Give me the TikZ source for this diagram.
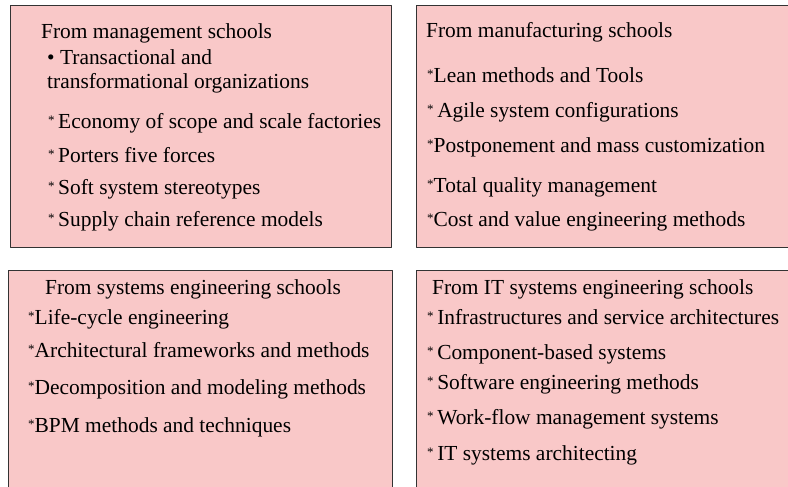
\documentclass[tikz,border=0pt]{standalone}
\usepackage{fontspec}
\setmainfont{Liberation Serif}
\definecolor{schoolpink}{RGB}{249,200,200}
\newcommand{\st}{\raisebox{4bp}{\fontsize{13}{13}\selectfont *}}
\begin{document}
\begin{tikzpicture}[x=1bp,y=1bp,line join=bevel,
  school/.style={rectangle,draw=black!80,line width=1bp,fill=schoolpink,inner sep=0pt,anchor=north west},
  item/.style={anchor=base west,inner sep=0pt,font=\fontsize{21.5}{25}\selectfont},
]
\useasboundingbox (0bp,0bp) rectangle (788bp,487bp);
\clip (0bp,0bp) rectangle (788bp,487bp);
%%
\node (management) at (10bp,482bp) [school,minimum width=381bp,minimum height=242bp] {};
  \node (manufacturing) at (416bp,482bp) [school,minimum width=390bp,minimum height=242bp] {};
  \node (syseng) at (8bp,217bp) [school,minimum width=384bp,minimum height=240bp] {};
  \node (iteng) at (416bp,217bp) [school,minimum width=390bp,minimum height=240bp] {};
%%
\node (management0) at (41bp,448bp) [item] {From management schools};
  \node (management1) at (47bp,422bp) [item] {\textbullet\ Transactional and};
  \node (management2) at (47bp,398bp) [item] {transformational organizations};
  \node (management3) at (48bp,358bp) [item] {\st\,Economy of scope and scale factories};
  \node (management4) at (48bp,324bp) [item] {\st\,Porters five forces};
  \node (management5) at (48bp,292bp) [item] {\st\,Soft system stereotypes};
  \node (management6) at (48bp,260bp) [item] {\st\,Supply chain reference models};
%%
\node (manufacturing0) at (426bp,449bp) [item] {From manufacturing schools};
  \node (manufacturing1) at (427bp,404bp) [item] {\st Lean methods and Tools};
  \node (manufacturing2) at (427bp,369bp) [item] {\st\,Agile system configurations};
  \node (manufacturing3) at (427bp,334bp) [item] {\st Postponement and mass customization};
  \node (manufacturing4) at (427bp,294bp) [item] {\st Total quality management};
  \node (manufacturing5) at (427bp,260bp) [item] {\st Cost and value engineering methods};
%%
\node (syseng0) at (45bp,192bp) [item] {From systems engineering schools};
  \node (syseng1) at (28bp,162bp) [item] {\st Life-cycle engineering};
  \node (syseng2) at (28bp,129bp) [item] {\st Architectural frameworks and methods};
  \node (syseng3) at (28bp,92bp) [item] {\st Decomposition and modeling methods};
  \node (syseng4) at (28bp,54bp) [item] {\st BPM methods and techniques};
%%
\node (iteng0) at (432bp,192bp) [item] {From IT systems engineering schools};
  \node (iteng1) at (427bp,162bp) [item] {\st\,Infrastructures and service architectures};
  \node (iteng2) at (427bp,127bp) [item] {\st\,Component-based systems};
  \node (iteng3) at (427bp,97bp) [item] {\st\,Software engineering methods};
  \node (iteng4) at (427bp,62bp) [item] {\st\,Work-flow management systems};
  \node (iteng5) at (427bp,27bp) [item] {\st\,IT systems architecting};
%
\end{tikzpicture}
\end{document}
